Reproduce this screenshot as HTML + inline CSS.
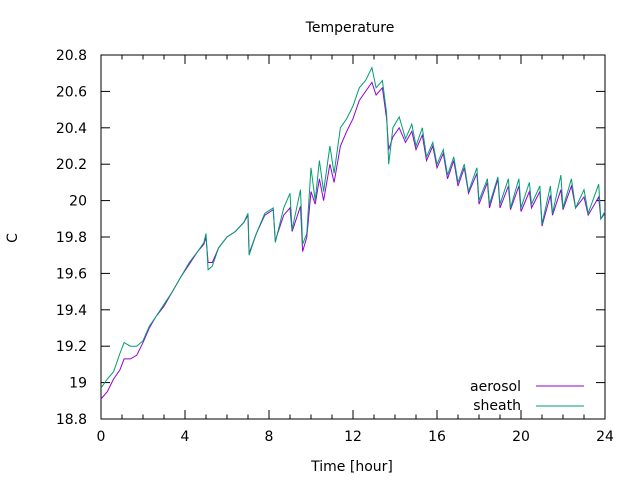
<!DOCTYPE html>
<html><head><meta charset="utf-8"><style>
body{margin:0;background:#fff}
svg{display:block;font-family:"DejaVu Sans","Liberation Sans",sans-serif}
</style></head><body>
<svg id="c" width="640" height="480" xmlns="http://www.w3.org/2000/svg">
<rect width="640" height="480" fill="#fff"/>
<text x="350" y="32" font-size="14" text-anchor="middle">Temperature</text>
<text x="17" y="238" font-size="14" text-anchor="middle" transform="rotate(-90 17 238)">C</text>
<text x="352" y="471" font-size="14" text-anchor="middle">Time [hour]</text>
<g id="axes"></g>
<g id="series"></g>
<g>
<text x="521" y="391" font-size="14" text-anchor="end">aerosol</text>
<line x1="536" y1="386" x2="584" y2="386" stroke="#9400d3" stroke-width="1"/>
<text x="521" y="410" font-size="14" text-anchor="end">sheath</text>
<line x1="536" y1="406" x2="584" y2="406" stroke="#009e73" stroke-width="1"/>
</g>
</svg>
<script>
const xTicks=[0,4,8,12,16,20,24];
const yTicks=[18.8,19,19.2,19.4,19.6,19.8,20,20.2,20.4,20.6,20.8];
const yTickLabels=["18.8","19","19.2","19.4","19.6","19.8","20","20.2","20.4","20.6","20.8"];
const times=[0,0.3,0.6,0.9,1.1,1.4,1.7,2.0,2.3,2.6,3.0,3.4,3.8,4.2,4.6,4.9,5.0,5.1,5.3,5.6,6.0,6.4,6.8,7.0,7.05,7.4,7.8,8.2,8.3,8.7,9.0,9.1,9.3,9.5,9.6,9.8,10.0,10.2,10.4,10.6,10.9,11.1,11.4,11.7,12.0,12.3,12.6,12.9,13.1,13.4,13.6,13.7,13.9,14.2,14.5,14.8,15.0,15.3,15.5,15.8,16.0,16.3,16.5,16.8,17.0,17.3,17.5,17.9,18.0,18.4,18.5,18.9,19.0,19.4,19.5,19.9,20.0,20.4,20.5,20.9,21.0,21.4,21.5,21.9,22.0,22.4,22.6,23.0,23.2,23.7,23.8,24.0];
const aerosol=[18.91,18.95,19.02,19.07,19.13,19.13,19.15,19.22,19.30,19.36,19.42,19.50,19.58,19.65,19.72,19.76,19.80,19.66,19.66,19.74,19.80,19.83,19.88,19.92,19.71,19.82,19.92,19.95,19.78,19.92,19.96,19.83,19.90,19.97,19.72,19.80,20.05,19.98,20.12,20.00,20.20,20.10,20.30,20.38,20.45,20.55,20.60,20.65,20.58,20.62,20.45,20.28,20.35,20.40,20.32,20.38,20.28,20.36,20.22,20.30,20.18,20.26,20.12,20.22,20.08,20.18,20.04,20.15,19.98,20.10,19.96,20.12,19.96,20.08,19.95,20.08,19.94,20.05,19.96,20.05,19.86,20.03,19.92,20.06,19.95,20.08,19.96,20.02,19.92,20.02,19.90,19.93];
const sheath=[18.97,19.02,19.06,19.16,19.22,19.20,19.20,19.23,19.31,19.36,19.43,19.50,19.58,19.66,19.72,19.77,19.82,19.62,19.64,19.74,19.80,19.83,19.88,19.93,19.70,19.82,19.93,19.96,19.77,19.96,20.04,19.84,19.95,20.06,19.76,19.82,20.18,20.00,20.22,20.05,20.30,20.15,20.40,20.45,20.52,20.62,20.66,20.73,20.62,20.66,20.48,20.20,20.40,20.46,20.34,20.42,20.30,20.40,20.24,20.32,20.20,20.28,20.14,20.24,20.10,20.20,20.05,20.18,20.00,20.12,19.98,20.13,19.98,20.12,19.96,20.12,19.96,20.10,19.98,20.08,19.87,20.08,19.93,20.14,19.96,20.12,19.96,20.06,19.93,20.09,19.90,19.94];
const L=101,R=605,T=55,B=419;
const xs=t=>L+(t-0)/24*(R-L);
const ys=v=>B-(v-18.8)/2*(B-T);
const NS="http://www.w3.org/2000/svg";
const ax=document.getElementById('axes');
function mk(tag,attrs,parent){const e=document.createElementNS(NS,tag);for(const k in attrs)e.setAttribute(k,attrs[k]);parent.appendChild(e);return e;}
const frame=mk('rect',{x:L,y:T,width:R-L,height:B-T,fill:'none',stroke:'#000','stroke-width':1},ax);


for(let h=0;h<=24;h++){
  const len=xTicks.includes(h)?9:4.5;
  const x=xs(h);
  const t1=mk('line',{x1:x,y1:B,x2:x,y2:B-len,stroke:'#000'},ax);
  
  
  const t2=mk('line',{x1:x,y1:T,x2:x,y2:T+len,stroke:'#000'},ax);
  
  
}
xTicks.forEach(h=>{
  const tx=mk('text',{x:xs(h),y:B+22,'font-size':14,'text-anchor':'middle'},ax);
  tx.textContent=String(h);
  
  
});
yTicks.forEach((v,i)=>{
  const y=ys(v);
  const a=mk('line',{x1:L,y1:y,x2:L+9,y2:y,stroke:'#000'},ax);
  
  
  const b=mk('line',{x1:R,y1:y,x2:R-9,y2:y,stroke:'#000'},ax);
  
  
  const tx=mk('text',{x:L-14,y:y+5,'font-size':14,'text-anchor':'end'},ax);
  tx.textContent=yTickLabels[i];
  
  
});
const sg=document.getElementById('series');
function line(vals,color,name){
  const d=times.map((t,i)=>(i?'L':'M')+xs(t).toFixed(1)+' '+ys(vals[i]).toFixed(1)).join(' ');
  const p=mk('path',{d:d,fill:'none',stroke:color,'stroke-width':1},sg);
  
  
}
line(aerosol,'#9400d3','aerosol-line');
line(sheath,'#009e73','sheath-line');
</script>
</body></html>
